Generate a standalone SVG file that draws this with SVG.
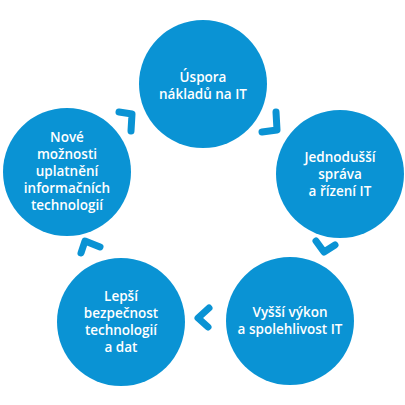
<svg xmlns="http://www.w3.org/2000/svg" width="405" height="405" viewBox="0 0 405 405">
<style>
.c{fill:#0a93d4}
.t{fill:#fff;font-family:"Open Sans","Liberation Sans",sans-serif;font-weight:600;font-size:13.5px;text-anchor:middle}
.a{fill:none;stroke:#0a93d4;stroke-width:7;stroke-linecap:round;stroke-linejoin:round}
</style>
<rect width="405" height="405" fill="#fff"/>
<g id="connectors">
<polyline class="a" points="276,112 277,130 262,132"/>
<polyline class="a" points="316,241 324,252 335,245"/>
<polyline class="a" points="209,308 198,318 208,327"/>
<polyline class="a" points="81,253 85,241 100,247"/>
<polyline class="a" points="119,112 132,114 131,131"/>
</g>
<g id="n1"><circle class="c" cx="203" cy="84" r="64"/>
<text class="t" x="203" y="82">Úspora</text><text class="t" x="203" y="99">nákladů na IT</text></g>
<g id="n2"><circle class="c" cx="340" cy="174" r="64"/>
<text class="t" x="340" y="162">Jednodušší</text><text class="t" x="340" y="179">správa</text><text class="t" x="340" y="196">a řízení IT</text></g>
<g id="n3"><circle class="c" cx="290" cy="321" r="64"/>
<text class="t" x="290" y="317">Vyšší výkon</text><text class="t" x="290" y="334">a spolehlivost IT</text></g>
<g id="n4"><circle class="c" cx="121" cy="322" r="64"/>
<text class="t" x="121" y="301">Lepší</text><text class="t" x="121" y="318">bezpečnost</text><text class="t" x="121" y="335">technologií</text><text class="t" x="121" y="352">a dat</text></g>
<g id="n5"><circle class="c" cx="67" cy="172" r="64"/>
<text class="t" x="67" y="142">Nové</text><text class="t" x="67" y="159">možnosti</text><text class="t" x="67" y="176">uplatnění</text><text class="t" x="67" y="193">informačních</text><text class="t" x="67" y="210">technologií</text></g>
</svg>
